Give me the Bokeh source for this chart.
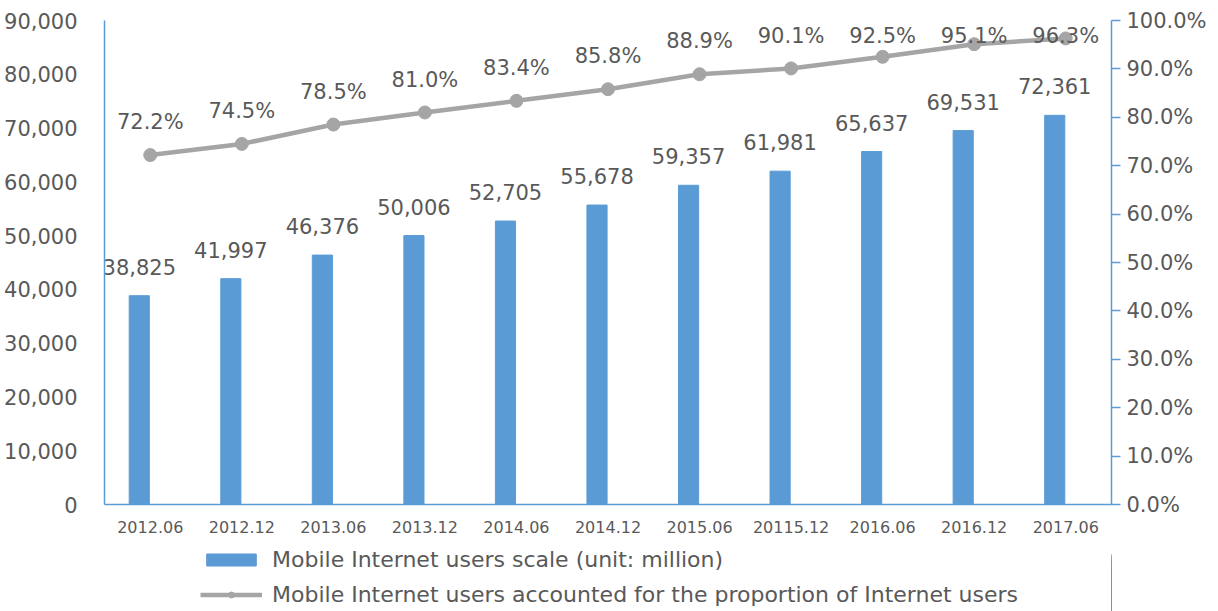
import numpy as np
from bokeh.plotting import figure
from bokeh.layouts import column
from bokeh.models import (ColumnDataSource, Range1d, LinearAxis, FixedTicker,
                          NumeralTickFormatter, PrintfTickFormatter, Legend, LegendItem)
from bokeh.transform import dodge
from bokeh.core.properties import value
from bokeh.embed import file_html
from bokeh.resources import INLINE

# ---- data ----
categories = ["2012.06", "2012.12", "2013.06", "2013.12", "2014.06", "2014.12",
              "2015.06", "20115.12", "2016.06", "2016.12", "2017.06"]
users = [38825, 41997, 46376, 50006, 52705, 55678, 59357, 61981, 65637, 69531, 72361]
share = [72.2, 74.5, 78.5, 81.0, 83.4, 85.8, 88.9, 90.1, 92.5, 95.1, 96.3]
left_ticks = list(range(0, 90001, 10000))
right_ticks = list(range(0, 101, 10))
bar_label = "Mobile Internet users scale (unit: million)"
line_label = "Mobile Internet users accounted for the proportion of Internet users"

BLUE = "#5B9BD5"
GRAY = "#A5A5A5"
TXT = "#595959"
FONT = "DejaVu Sans"

src = ColumnDataSource(dict(
    cat=categories,
    users=users,
    share=share,
    users_lbl=["{:,}".format(v) for v in users],
    share_lbl=["{:.1f}%".format(v) for v in share],
    share_lbl_y=list(np.minimum(np.array(share) + 6.8, 96.9)),
))

p = figure(x_range=categories, y_range=Range1d(0, 90000),
           width=1210, height=540,
           min_border_left=104, min_border_top=20, min_border_right=99,
           min_border_bottom=36,
           output_backend="svg", toolbar_location=None)
p.extra_y_ranges = {"pct": Range1d(0, 100)}
p.xgrid.visible = False
p.ygrid.visible = False
p.outline_line_color = None

# left axis
ya = p.yaxis[0]
ya.ticker = FixedTicker(ticks=left_ticks)
ya.formatter = NumeralTickFormatter(format="0,0")
ya.axis_line_color = BLUE
ya.axis_line_width = 1.5
ya.major_tick_line_color = None
ya.minor_tick_line_color = None
ya.major_label_standoff = 21
ya.major_label_text_font = FONT
ya.major_label_text_font_size = "21px"
ya.major_label_text_color = TXT

# right axis
ra = LinearAxis(y_range_name="pct", ticker=FixedTicker(ticks=right_ticks),
                formatter=PrintfTickFormatter(format="%.1f%%"))
ra.axis_line_color = BLUE
ra.axis_line_width = 1.5
ra.major_tick_line_color = BLUE
ra.major_tick_line_width = 1.5
ra.major_tick_in = 0
ra.major_tick_out = 9
ra.minor_tick_line_color = None
ra.major_label_standoff = 6
ra.major_label_text_font = FONT
ra.major_label_text_font_size = "21px"
ra.major_label_text_color = TXT
p.add_layout(ra, "right")

# bottom axis
xa = p.xaxis[0]
xa.axis_line_color = BLUE
xa.axis_line_width = 1.5
xa.major_tick_line_color = None
xa.minor_tick_line_color = None
xa.major_label_standoff = 10
xa.major_label_text_font = FONT
xa.major_label_text_font_size = "16px"
xa.major_label_text_color = TXT

# bars
p.vbar(x=dodge("cat", -0.12, range=p.x_range), top="users", bottom=0,
       width=0.22, source=src, fill_color=BLUE, line_color=BLUE)
p.text(x=dodge("cat", -0.12, range=p.x_range), y="users", text="users_lbl",
       source=src, text_align="center", text_baseline="alphabetic", y_offset=-29,
       text_font=value(FONT), text_font_size="21px", text_color=TXT)

# line
p.line(x="cat", y="share", source=src, y_range_name="pct",
       line_color=GRAY, line_width=4.5)
p.scatter(x="cat", y="share", source=src, y_range_name="pct",
          size=13, fill_color=GRAY, line_color=GRAY)
p.text(x="cat", y="share_lbl_y", text="share_lbl", source=src, y_range_name="pct",
       text_align="center", text_baseline="alphabetic",
       text_font=value(FONT), text_font_size="21px", text_color=TXT)

# ---- legend strip: same series and styles, shifted far outside its view ----
lf = figure(width=1210, height=71, x_range=categories, y_range=Range1d(0, 90000),
            x_axis_type=None, y_axis_type=None, min_border=0,
            output_backend="svg", toolbar_location=None)
lf.extra_y_ranges = {"pct": Range1d(0, 100)}
lf.outline_line_color = None
lf.xgrid.visible = False
lf.ygrid.visible = False
far = dodge("cat", 60, range=lf.x_range)
lb = lf.vbar(x=far, top="users", bottom=0, width=0.22, source=src,
             fill_color=BLUE, line_color=BLUE)
ll = lf.line(x=far, y="share", source=src, y_range_name="pct",
             line_color=GRAY, line_width=4.5)
lp = lf.scatter(x=far, y="share", source=src, y_range_name="pct", size=13,
                fill_color=GRAY, line_color=GRAY)

legend = Legend(items=[
    LegendItem(label=bar_label, renderers=[lb]),
    LegendItem(label=line_label, renderers=[ll, lp]),
], location=(96, 4), orientation="vertical")
legend.label_text_font = FONT
legend.label_text_font_size = "22px"
legend.label_text_color = TXT
legend.glyph_width = 62
legend.glyph_height = 15
legend.label_standoff = 10
legend.label_height = 26
legend.spacing = 9
legend.padding = 0
legend.margin = 0
legend.border_line_color = None
legend.background_fill_alpha = 0
lf.add_layout(legend, "center")

layout = column(p, lf, spacing=0)
open("out.html", "w").write(file_html(layout, INLINE))
